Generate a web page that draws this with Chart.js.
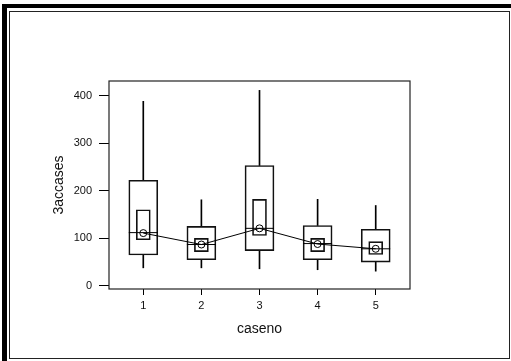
<!DOCTYPE html>
<html>
<head>
<meta charset="utf-8">
<script src="https://cdn.jsdelivr.net/npm/chart.js@4"></script>
<style>
  body { margin: 0; background: #fff; }
  #wrap { position: relative; width: 511px; height: 361px; overflow: hidden; }
  .band { position: absolute; background: #000; }
  #inner { position: absolute; left: 9px; top: 11px; width: 499px; height: 346px; border: 1px solid #222; }
  canvas { position: absolute; left: 0; top: 0; }
</style>
</head>
<body>
<div id="wrap">
  <div class="band" style="left:2px;top:4px;width:509px;height:4px"></div>
  <div class="band" style="left:2px;top:4px;width:5px;height:357px"></div>
  <div id="inner"></div>
  <canvas id="boxChart" width="511" height="361"></canvas>
</div>
<script>
// Data
const caseno = [1, 2, 3, 4, 5];
const whiskerLow = [38, 38, 36, 34, 31];
const q1 = [65, 55, 74, 55, 50];
const median = [112, 87, 121, 89, 78];
const q3 = [222, 125, 253, 127, 119];
const whiskerHigh = [388, 181, 411, 182, 169];
const ciLow = [97, 72, 106, 72, 66];
const ciHigh = [160, 100, 182, 100, 93];
const means = [111, 87, 121, 88, 78];
const xTicks = [1, 2, 3, 4, 5];
const yTicks = [0, 100, 200, 300, 400];

const pts = (lo, hi) => caseno.map((c, i) => ({ x: c, y: [lo[i], hi[i]] }));

// Frame round the plot area
const plotFrame = {
  id: "plotFrame",
  afterDraw(chart) {
    const { ctx, chartArea: a } = chart;
    ctx.save();
    ctx.strokeStyle = "#222";
    ctx.lineWidth = 1.2;
    ctx.strokeRect(a.left, a.top, a.right - a.left, a.bottom - a.top);
    ctx.restore();
  },
};

Chart.defaults.font.family = "'Liberation Sans', Arial, sans-serif";
Chart.defaults.color = "#111";

const ctx = document.getElementById("boxChart").getContext("2d");
new Chart(ctx, {
  type: "bar",
  data: {
    datasets: [
      {
        label: "lower whisker",
        data: pts(whiskerLow, q1),
        backgroundColor: "#000",
        borderWidth: 0,
        barThickness: 1,
        grouped: false,
        order: 5,
      },
      {
        label: "upper whisker",
        data: pts(q3, whiskerHigh),
        backgroundColor: "#000",
        borderWidth: 0,
        barThickness: 1,
        grouped: false,
        order: 5,
      },
      {
        label: "box",
        data: pts(q1, q3),
        backgroundColor: "rgba(0,0,0,0)",
        borderColor: "#111",
        borderWidth: 1,
        borderSkipped: false,
        barThickness: 29,
        grouped: false,
        order: 4,
      },
      {
        label: "ci",
        data: pts(ciLow, ciHigh),
        backgroundColor: "rgba(0,0,0,0)",
        borderColor: "#111",
        borderWidth: 1,
        borderSkipped: false,
        barThickness: 14,
        grouped: false,
        order: 3,
      },
      {
        type: "line",
        label: "median",
        data: caseno.map((c, i) => ({ x: c, y: median[i] })),
        showLine: false,
        pointStyle: "line",
        pointRadius: 14.5,
        pointBorderWidth: 1,
        pointBorderColor: "#000",
        order: 2,
      },
      {
        type: "line",
        label: "mean",
        data: caseno.map((c, i) => ({ x: c, y: means[i] })),
        borderColor: "#000",
        borderWidth: 1,
        tension: 0,
        pointStyle: "circle",
        pointRadius: 3.5,
        pointBorderWidth: 1,
        pointBorderColor: "#000",
        pointBackgroundColor: "rgba(0,0,0,0)",
        order: 1,
      },
    ],
  },
  options: {
    responsive: false,
    animation: false,
    layout: { padding: { left: 0, top: 81, right: 101, bottom: 0 } },
    plugins: {
      legend: { display: false },
      tooltip: { enabled: false },
    },
    scales: {
      x: {
        type: "linear",
        min: 0.41,
        max: 5.59,
        offset: false,
        afterBuildTicks: (s) => { s.ticks = xTicks.map((v) => ({ value: v })); },
        afterFit: (s) => { s.height = 72; },
        grid: { offset: false, drawOnChartArea: false, drawTicks: true, tickLength: 6, color: "#000" },
        border: { display: false },
        ticks: { font: { size: 11 }, padding: 4, maxRotation: 0 },
        title: { display: true, text: "caseno", font: { size: 14 }, padding: { top: 0, bottom: 23 } },
      },
      y: {
        type: "linear",
        min: -6.5,
        max: 430.7,
        afterBuildTicks: (s) => { s.ticks = yTicks.map((v) => ({ value: v })); },
        afterFit: (s) => { s.width = 109; },
        grid: { drawOnChartArea: false, drawTicks: true, tickLength: 10, color: "#000" },
        border: { display: false },
        ticks: { font: { size: 11 }, padding: 7 },
        title: { display: true, text: "3accases", font: { size: 14 }, padding: { top: 51, bottom: 0 } },
      },
    },
  },
  plugins: [plotFrame],
});
</script>
</body>
</html>
